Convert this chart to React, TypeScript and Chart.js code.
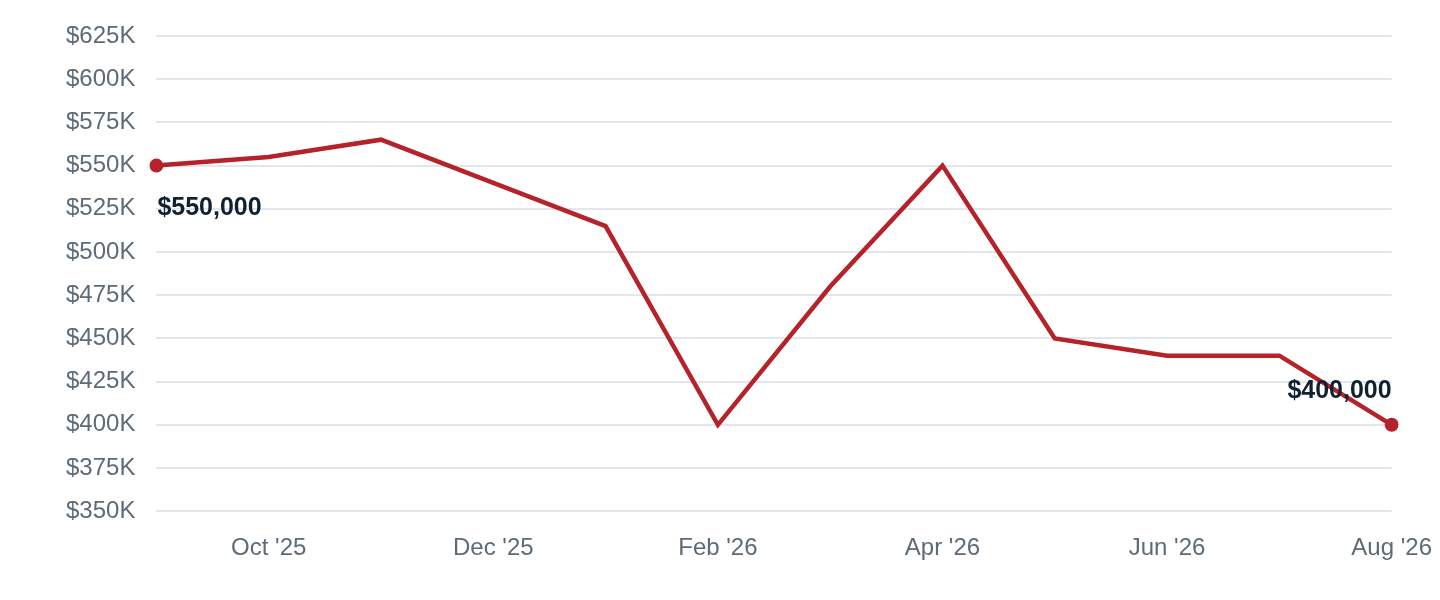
import { useEffect, useRef } from "react";
import { Chart, registerables, Plugin } from "chart.js";

Chart.register(...registerables);

const months = [
  "Sep '25", "Oct '25", "Nov '25", "Dec '25", "Jan '26", "Feb '26",
  "Mar '26", "Apr '26", "May '26", "Jun '26", "Jul '26", "Aug '26",
];
const prices = [
  550000, 555000, 565000, 540000, 515000, 400000,
  480000, 550000, 450000, 440000, 440000, 400000,
];
const yMin = 350000;
const yMax = 625000;
const yStep = 25000;

const lineColor = "#b52229";
const labelColor = "#10222f";
const tickColor = "#5d6b78";
const gridColor = "#e3e7ed";
const fontFamily = "'Liberation Sans', Arial, sans-serif";

// labels on the first and last point only
const endLabels: Plugin<"line"> = {
  id: "endLabels",
  afterDatasetsDraw(chart) {
    const meta = chart.getDatasetMeta(0);
    const ctx = chart.ctx;
    const last = meta.data.length - 1;
    ctx.save();
    ctx.font = `bold 25px ${fontFamily}`;
    ctx.fillStyle = labelColor;
    ctx.textBaseline = "middle";
    [0, last].forEach((i) => {
      const pt = meta.data[i];
      const text = "$" + prices[i].toLocaleString("en-US");
      if (i === 0) {
        ctx.textAlign = "left";
        ctx.fillText(text, pt.x + 1, pt.y + 43);
      } else {
        ctx.textAlign = "right";
        ctx.fillText(text, pt.x, pt.y - 34);
      }
    });
    ctx.restore();
  },
};

export default function App() {
  const canvasRef = useRef<HTMLCanvasElement>(null);
  const chartRef = useRef<Chart | null>(null);

  useEffect(() => {
    if (!canvasRef.current) return;
    if (chartRef.current) chartRef.current.destroy();

    const last = prices.length - 1;
    chartRef.current = new Chart(canvasRef.current, {
      type: "line",
      data: {
        labels: months,
        datasets: [
          {
            data: prices,
            borderColor: lineColor,
            backgroundColor: lineColor,
            borderWidth: 4.5,
            tension: 0,
            pointRadius: (c) => (c.dataIndex === 0 || c.dataIndex === last ? 7 : 0),
            pointBorderWidth: 0,
            pointHoverRadius: 7,
          },
        ],
      },
      options: {
        animation: false,
        responsive: true,
        maintainAspectRatio: false,
        layout: { padding: { left: 58, top: 28, bottom: 29, right: 0 } },
        plugins: {
          legend: { display: false },
          tooltip: { enabled: false },
        },
        scales: {
          x: {
            offset: false,
            grid: { display: false, drawTicks: true, tickLength: 23 },
            border: { display: false },
            ticks: {
              autoSkip: false,
              maxRotation: 0,
              color: tickColor,
              padding: 0,
              font: { family: fontFamily, size: 24 },
              callback: (_v, i) => (i % 2 === 1 ? months[i] : ""),
            },
          },
          y: {
            min: yMin,
            max: yMax,
            grid: {
              color: gridColor,
              lineWidth: 2,
              drawTicks: true,
              tickLength: 21,
              tickColor: "transparent",
            },
            border: { display: false },
            ticks: {
              stepSize: yStep,
              color: tickColor,
              padding: 0,
              font: { family: fontFamily, size: 24 },
              callback: (v) => `$${Number(v) / 1000}K`,
            },
          },
        },
      },
      plugins: [endLabels],
    });

    return () => {
      if (chartRef.current) {
        chartRef.current.destroy();
        chartRef.current = null;
      }
    };
  }, []);

  return (
    <div style={{ width: "100%", height: 584, background: "#fff" }}>
      <canvas ref={canvasRef} />
    </div>
  );
}
